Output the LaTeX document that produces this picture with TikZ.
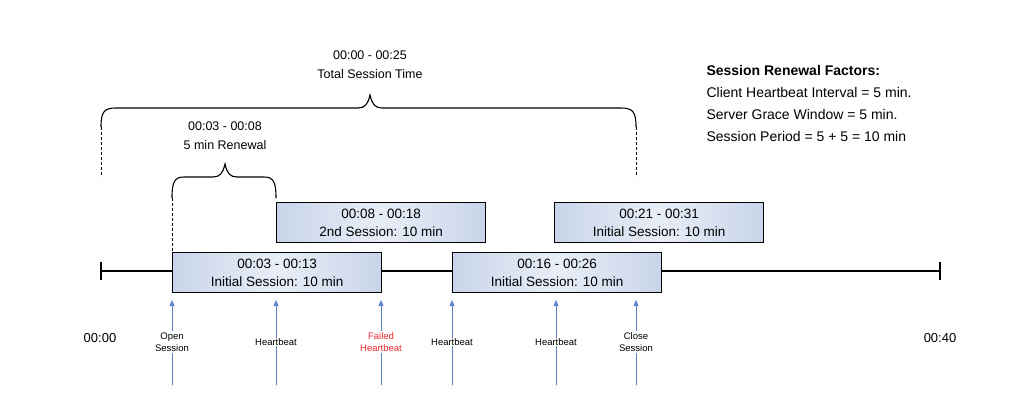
\documentclass[tikz,border=0pt]{standalone}
\usepackage{fontspec}
\setmainfont{Liberation Sans}
\usetikzlibrary{arrows.meta}
\definecolor{boxedge}{RGB}{200,212,232}
\definecolor{boxmid}{RGB}{232,238,248}
\definecolor{arr}{RGB}{90,130,200}
\definecolor{failred}{RGB}{235,40,50}
\begin{document}
\begin{tikzpicture}[x=1pt,y=-1pt,
  sess/.style={draw=black,line width=1.3pt,left color=boxedge,right color=boxedge,middle color=boxmid,
    minimum width=209pt,minimum height=40pt,anchor=north west,inner sep=0pt,align=center,font=\fontsize{13.5}{18}\selectfont},
  evt/.style={arr,line width=0.6pt,-{Triangle[length=6pt,width=5pt]}},
  evlab/.style={fill=white,inner sep=1pt,align=center,font=\fontsize{9.5}{12.5}\selectfont},
  brace/.style={line width=1.1pt,rounded corners=0pt},
  dsh/.style={dashed,line width=0.9pt,dash pattern=on 3pt off 2pt},
  tl/.style={font=\fontsize{12.5}{19}\selectfont,align=center}]
\useasboundingbox (0,0) rectangle (1024,408);
% timeline
\coordinate (t0) at (101,271);
\coordinate (t1) at (940,271);
\draw[line width=2pt] (t0) -- (t1);
\draw[line width=2pt] (101,262) -- (101,280);
\draw[line width=2pt] (940,262) -- (940,280);
% sessions
\node[sess] (s1) at (172,252) {00:03 - 00:13\\Initial Session: 10 min};
\node[sess] (s2) at (276,202) {00:08 - 00:18\\2nd Session: 10 min};
\node[sess] (s3) at (452,252) {00:16 - 00:26\\Initial Session: 10 min};
\node[sess] (s4) at (554,202) {00:21 - 00:31\\Initial Session: 10 min};
% events
\foreach \x/\n in {172/a,276/b,381/c,452/d,556/e,636/f}{
  \coordinate (b\n) at (\x,385);
  \coordinate (e\n) at (\x,300);
  \draw[evt] (b\n) -- (e\n);
}
\node[evlab] (la) at (172,342) {Open\\Session};
\node[evlab] (lb) at (276,342) {Heartbeat};
\node[evlab,text=failred] (lc) at (381,342) {Failed\\Heartbeat};
\node[evlab] (ld) at (452,342) {Heartbeat};
\node[evlab] (le) at (556,342) {Heartbeat};
\node[evlab] (lf) at (636,342) {Close\\Session};
\node[font=\fontsize{13}{16}\selectfont] (z0) at (100,338) {00:00};
\node[font=\fontsize{13}{16}\selectfont] (z1) at (940,338) {00:40};
% big brace
\draw[brace] (101,127) .. controls (101,112) and (104,108) .. (116,108) -- (358,108)
  .. controls (365,108) and (368,104) .. (370,95) .. controls (372,104) and (375,108) .. (382,108)
  -- (621,108) .. controls (633,108) and (636,112) .. (636,127);
\draw[dsh] (101,127) -- (101,177);
\draw[dsh] (636,127) -- (636,177);
\node[tl] (bt) at (370,65) {00:00 - 00:25\\Total Session Time};
% small brace
\draw[brace] (172,198) .. controls (172,183) and (174,177) .. (184,177) -- (213,177)
  .. controls (220,177) and (223,173) .. (225,164) .. controls (227,173) and (230,177) .. (237,177)
  -- (264,177) .. controls (274,177) and (276,183) .. (276,198);
\draw[dsh] (172,198) -- (172,252);
\node[tl] (st) at (225,136) {00:03 - 00:08\\5 min Renewal};
% factors
\node[anchor=north west,align=left,font=\fontsize{14}{22}\selectfont] (fac) at (703,62)
 {\textbf{Session Renewal Factors:}\\Client Heartbeat Interval = 5 min.\\Server Grace Window = 5 min.\\Session Period = 5 + 5 = 10 min};
\end{tikzpicture}
\end{document}
